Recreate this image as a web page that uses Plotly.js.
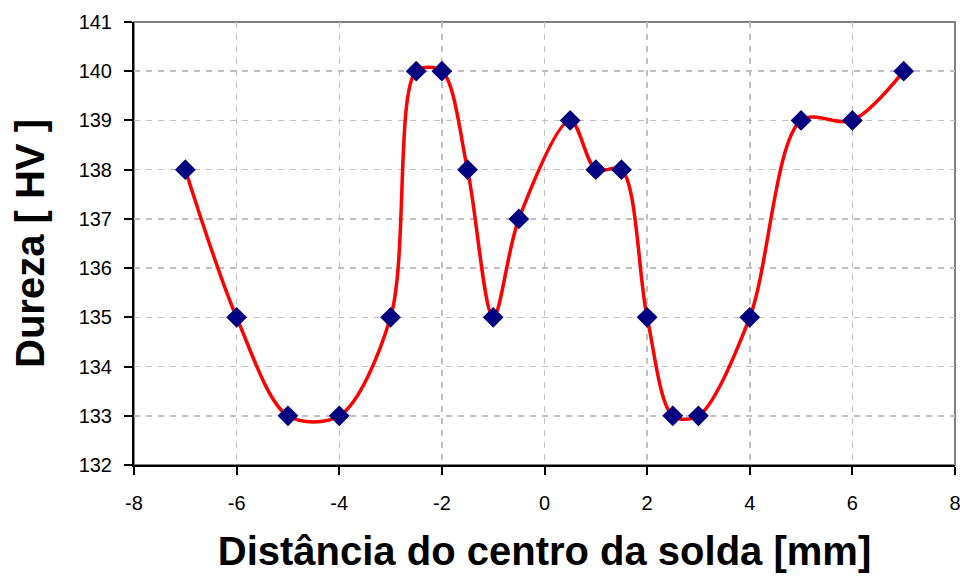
<!DOCTYPE html>
<html><head><meta charset="utf-8">
<script src="https://cdn.plot.ly/plotly-3.0.1.min.js"></script>
<style>html,body{margin:0;padding:0;background:#fff}#chart{width:960px;height:576px}</style>
</head><body><div id="chart"></div>
<script>
const distance = [-7, -6, -5, -4, -3, -2.5, -2, -1.5, -1, -0.5, 0.5, 1, 1.5, 2, 2.5, 3, 4, 5, 6, 7];
const hardness = [138, 135, 133, 133, 135, 140, 140, 138, 135, 137, 139, 138, 138, 135, 133, 133, 135, 139, 139, 140];
const xTicks = [-8, -6, -4, -2, 0, 2, 4, 6, 8];
const yTicks = [132, 133, 134, 135, 136, 137, 138, 139, 140, 141];

const trace = {
  x: distance, y: hardness, type: 'scatter', mode: 'lines+markers',
  line: {color: '#ff0000', width: 3.5, shape: 'spline', smoothing: 0.9},
  marker: {symbol: 'diamond', size: 16, color: '#000080'},
  hoverinfo: 'none'
};
const font = {family: 'Liberation Sans, Arial, sans-serif', color: '#000'};
const layout = {
  width: 960, height: 576,
  margin: {l: 134, r: 5, t: 22, b: 111},
  paper_bgcolor: '#fff', plot_bgcolor: '#fff',
  showlegend: false,
  font: font,
  xaxis: {
    range: [-8, 8], tickvals: xTicks, ticktext: xTicks.map(String),
    showgrid: true, gridcolor: '#c0c0c0', griddash: '6px,6px', gridwidth: 1.5,
    zeroline: false, showline: true, linecolor: '#000', linewidth: 2,
    ticks: 'outside', ticklen: 8, tickwidth: 2, tickcolor: '#000',
    ticklabelstandoff: 11, ticklabeloverflow: 'allow', automargin: false,
    tickfont: {family: font.family, size: 20, color: '#000'},
    title: {text: 'Distância do centro da solda [mm]', font: {family: font.family, size: 40, color: '#000', weight: 'bold'}, standoff: 24}
  },
  yaxis: {
    range: [132, 141], tickvals: yTicks, ticktext: yTicks.map(String),
    showgrid: true, gridcolor: '#c0c0c0', griddash: '6px,6px', gridwidth: 1.5,
    zeroline: false, showline: true, linecolor: '#000', linewidth: 2,
    ticks: 'outside', ticklen: 8, tickwidth: 2, tickcolor: '#000',
    ticklabelstandoff: 8, automargin: false,
    tickfont: {family: font.family, size: 20, color: '#000'},
    title: {text: 'Dureza [ HV ]', font: {family: font.family, size: 40, color: '#000', weight: 'bold'}, standoff: 22}
  },
  shapes: [{type: 'rect', xref: 'paper', yref: 'paper', x0: 0, x1: 1, y0: 0, y1: 1,
    line: {color: '#808080', width: 2}, layer: 'below'}]
};
Plotly.newPlot('chart', [trace], layout, {displayModeBar: false, staticPlot: true});
</script></body></html>
